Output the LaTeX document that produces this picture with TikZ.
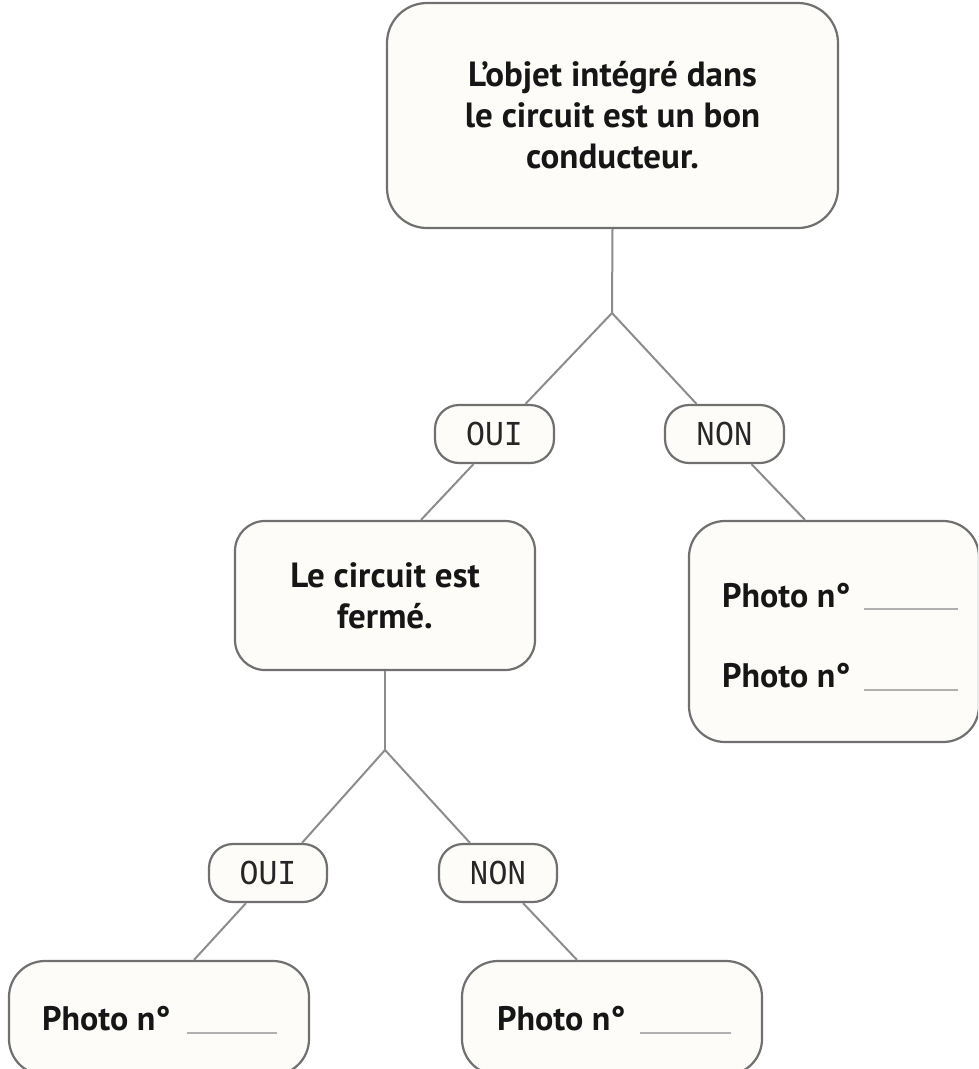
\documentclass[tikz,border=0pt]{standalone}
\usepackage{fontspec}
\setmainfont{PT Sans}
\newfontfamily\labfont[FakeStretch=0.9]{Liberation Mono}
\usetikzlibrary{calc}
\definecolor{boxgray}{HTML}{707070}
\definecolor{linegray}{HTML}{8C8C8C}
\definecolor{boxfill}{HTML}{FDFCF9}
\definecolor{blankgray}{HTML}{B0B0B0}
\definecolor{txt}{HTML}{161616}
\begin{document}
\begin{tikzpicture}[x=1pt,y=-1pt,
  box/.style={draw=boxgray, line width=2.2pt, fill=boxfill, inner sep=0pt, rectangle},
  qbox/.style={box, rounded corners=#1, align=center, text=txt,
     font=\bfseries\fontsize{35}{41}\selectfont},
  lab/.style={box, rounded corners=24pt, minimum width=119pt, minimum height=58pt,
     text=black!85, font=\labfont\fontsize{35}{35}\selectfont},
  ans/.style={box, rounded corners=36pt},
  conn/.style={draw=linegray, line width=2pt},
  ptxt/.style={anchor=base west, inner sep=0pt, text=txt, font=\bfseries\fontsize{34}{34}\selectfont},
  blank/.style={draw=blankgray, line width=1.5pt}
]
\useasboundingbox (0,0) rectangle (978,1069);
\clip (0,0) rectangle (978,1069);

% nodes
\node[qbox=40pt, minimum width=451pt, minimum height=225pt] (top) at (612.5,115.5)
  {L’objet intégré dans\\le circuit est un bon\\conducteur.};
\node[lab] (oui1) at (494.5,434) {OUI};
\node[lab] (non1) at (724.5,434) {NON};
\node[qbox=30pt, minimum width=300pt, minimum height=149pt] (mid) at (385,595.5)
  {Le circuit est\\fermé.};
\node[ans, minimum width=290pt, minimum height=221pt] (rbox) at (834,631.5) {};
\node[lab, minimum width=118pt] (oui2) at (268,873) {OUI};
\node[lab, minimum width=118pt] (non2) at (498,873) {NON};
\node[ans, minimum width=300pt, minimum height=114pt] (bl) at (159,1018) {};
\node[ans, minimum width=300pt, minimum height=114pt] (bm) at (612,1018) {};

% junctions
\coordinate (j1) at (612,313);
\coordinate (j2) at (385,750);

% connectors
\draw[conn] (top.south) -- (j1);
\draw[conn] (j1) -- ($(oui1.north)+(31,0)$);
\draw[conn] (j1) -- ($(non1.north)+(-28,0)$);
\draw[conn] ($(oui1.south)+(-21,0)$) -- ($(mid.north)+(36,0)$);
\draw[conn] ($(non1.south)+(27,0)$) -- ($(rbox.north)+(-29,0)$);
\draw[conn] (mid.south) -- (j2);
\draw[conn] (j2) -- ($(oui2.north)+(34,0)$);
\draw[conn] (j2) -- ($(non2.north)+(-28,0)$);
\draw[conn] ($(oui2.south)+(-22,0)$) -- ($(bl.north)+(35,0)$);
\draw[conn] ($(non2.south)+(25,0)$) -- ($(bm.north)+(-35,0)$);

% answer texts
\node[ptxt] (r1) at (722,607) {Photo n°};
\node[ptxt] (r2) at (722,687) {Photo n°};
\node[ptxt] (b1) at (42,1030) {Photo n°};
\node[ptxt] (b2) at (497,1030) {Photo n°};
\draw[blank] (864,609) -- (958,609);
\draw[blank] (864,690) -- (958,690);
\draw[blank] (187,1033) -- (277,1033);
\draw[blank] (640,1033) -- (731,1033);
\end{tikzpicture}
\end{document}
